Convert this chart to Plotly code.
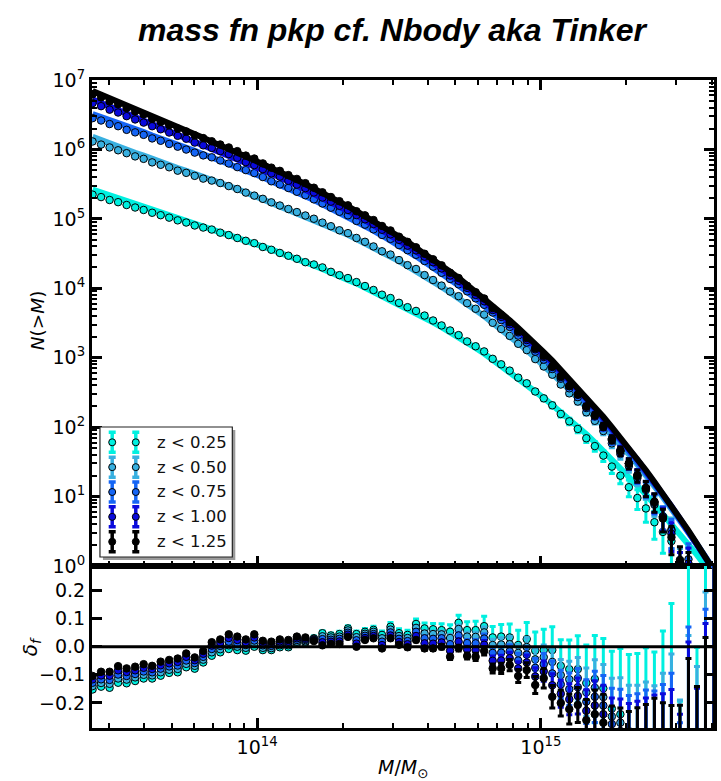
import numpy as np
import plotly.graph_objects as go

# ------------------------------------------------------------------ data
# mass bins, log10(M / M_sun)
LOG_M = [13.42,13.45,13.48,13.51,13.54,13.57,13.60,13.63,13.66,13.69,
         13.72,13.75,13.78,13.81,13.84,13.87,13.90,13.93,13.96,13.99,
         14.02,14.05,14.08,14.11,14.14,14.17,14.20,14.23,14.26,14.29,
         14.32,14.35,14.38,14.41,14.44,14.47,14.50,14.53,14.56,14.59,
         14.62,14.65,14.68,14.71,14.74,14.77,14.80,14.83,14.86,14.89,
         14.92,14.95,14.98,15.01,15.04,15.07,15.10,15.13,15.16,15.19,
         15.22,15.25,15.28,15.31,15.34,15.37,15.40,15.43,15.46,15.49,
         15.52,15.55,15.58,15.61]

LABELS = ["z < 0.25", "z < 0.50", "z < 0.75", "z < 1.00", "z < 1.25"]

# theory (Tinker) curves, log10 N(>M)
T_Z025 = [5.42,5.38,5.34,5.30,5.26,5.22,5.18,5.14,5.10,5.06,
          5.02,4.98,4.94,4.90,4.86,4.81,4.77,4.73,4.69,4.65,
          4.60,4.56,4.51,4.47,4.42,4.37,4.33,4.28,4.22,4.17,
          4.12,4.07,4.01,3.95,3.89,3.83,3.77,3.71,3.64,3.58,
          3.51,3.44,3.37,3.29,3.21,3.14,3.06,2.97,2.89,2.80,
          2.71,2.62,2.52,2.42,2.32,2.22,2.12,2.01,1.90,1.78,
          1.66,1.54,1.42,1.29,1.16,1.03,0.89,0.75,0.61,0.46,
          0.31,0.16,0.00,-0.16]
T_Z050 = [6.18,6.13,6.09,6.04,6.00,5.95,5.91,5.86,5.82,5.78,
          5.73,5.69,5.65,5.60,5.56,5.52,5.47,5.43,5.38,5.33,
          5.29,5.24,5.19,5.14,5.09,5.04,4.99,4.93,4.88,4.82,
          4.77,4.71,4.65,4.58,4.52,4.46,4.39,4.32,4.25,4.17,
          4.10,4.02,3.94,3.86,3.77,3.69,3.60,3.50,3.41,3.31,
          3.21,3.11,3.00,2.89,2.78,2.66,2.54,2.42,2.29,2.16,
          2.03,1.89,1.75,1.61,1.46,1.31,1.15,0.99,0.82,0.66,
          0.48,0.31,0.12,-0.06]
T_Z075 = [6.51,6.47,6.42,6.38,6.33,6.29,6.25,6.20,6.16,6.11,
          6.07,6.02,5.98,5.93,5.89,5.84,5.79,5.74,5.70,5.65,
          5.60,5.54,5.49,5.44,5.38,5.33,5.27,5.21,5.15,5.09,
          5.03,4.96,4.90,4.83,4.76,4.69,4.61,4.54,4.46,4.38,
          4.30,4.21,4.13,4.04,3.95,3.85,3.75,3.66,3.55,3.45,
          3.34,3.23,3.12,3.00,2.88,2.76,2.63,2.50,2.37,2.24,
          2.10,1.95,1.81,1.66,1.50,1.34,1.18,1.02,0.85,0.67,
          0.50,0.31,0.13,-0.06]
T_Z100 = [6.72,6.67,6.62,6.57,6.52,6.47,6.42,6.37,6.32,6.27,
          6.22,6.17,6.12,6.07,6.02,5.97,5.92,5.87,5.81,5.76,
          5.71,5.65,5.60,5.54,5.48,5.43,5.37,5.30,5.24,5.18,
          5.11,5.05,4.98,4.91,4.84,4.76,4.69,4.61,4.53,4.45,
          4.37,4.28,4.19,4.10,4.01,3.91,3.81,3.71,3.61,3.50,
          3.40,3.28,3.17,3.05,2.93,2.80,2.68,2.55,2.41,2.27,
          2.13,1.99,1.84,1.68,1.53,1.37,1.20,1.03,0.86,0.68,
          0.50,0.32,0.13,-0.07]
T_Z125 = [6.84,6.79,6.73,6.68,6.63,6.58,6.53,6.47,6.42,6.37,
          6.32,6.27,6.22,6.17,6.11,6.06,6.01,5.96,5.90,5.85,
          5.79,5.73,5.68,5.62,5.56,5.50,5.44,5.38,5.31,5.25,
          5.18,5.11,5.04,4.97,4.90,4.82,4.74,4.67,4.58,4.50,
          4.42,4.33,4.24,4.15,4.05,3.96,3.86,3.75,3.65,3.54,
          3.43,3.32,3.20,3.08,2.96,2.83,2.70,2.57,2.43,2.29,
          2.15,2.00,1.85,1.70,1.54,1.38,1.21,1.04,0.87,0.69,
          0.51,0.32,0.13,-0.07]

# fractional residual of the N-body counts, delta_f = N_nbody / N_theory - 1
D_Z025 = [-0.152,-0.142,-0.146,-0.128,-0.130,-0.122,-0.113,-0.113,-0.103,-0.093,
          -0.091,-0.073,-0.078,-0.056,-0.032,-0.020,-0.008,-0.012,-0.014,0.000,
          -0.012,-0.012,-0.002,-0.002,0.012,0.014,0.030,0.048,0.040,0.045,
          0.065,0.045,0.053,0.060,0.042,0.071,0.048,0.042,0.081,0.065,
          0.062,0.059,0.053,0.085,0.059,0.059,0.073,0.033,0.036,0.033,
          0.006,0.027,-0.014,-0.012,-0.012,-0.068,-0.080,-0.080,-0.129,-0.115,
          -0.148,-0.220,-0.240,-0.300,-0.340,-0.370,-0.450,-0.450,-0.440,-0.900,
          -0.500,-1.000,-0.800,-1.000]
D_Z050 = [-0.140,-0.129,-0.132,-0.113,-0.117,-0.109,-0.100,-0.102,-0.091,-0.082,
          -0.079,-0.061,-0.068,-0.046,-0.020,-0.009,0.005,0.000,-0.004,0.011,
          -0.004,-0.005,0.005,0.005,0.018,0.019,0.028,0.037,0.033,0.036,
          0.058,0.034,0.046,0.053,0.030,0.061,0.038,0.031,0.067,0.047,
          0.045,0.044,0.031,0.063,0.036,0.035,0.051,0.006,0.008,0.009,
          -0.022,-0.001,-0.045,-0.037,-0.054,-0.101,-0.116,-0.112,-0.162,-0.146,
          -0.179,-0.248,-0.270,-0.325,-0.360,-0.390,-0.458,-0.478,-0.493,-0.750,
          -0.650,-0.910,-0.850,-1.000]
D_Z075 = [-0.128,-0.116,-0.118,-0.099,-0.104,-0.097,-0.088,-0.091,-0.078,-0.070,
          -0.067,-0.049,-0.058,-0.036,-0.008,0.003,0.018,0.012,0.006,0.022,
          0.005,0.003,0.012,0.011,0.024,0.024,0.025,0.027,0.025,0.028,
          0.050,0.023,0.039,0.045,0.018,0.051,0.028,0.020,0.053,0.030,
          0.028,0.030,0.009,0.040,0.013,0.012,0.029,-0.022,-0.021,-0.016,
          -0.049,-0.028,-0.075,-0.062,-0.095,-0.134,-0.151,-0.144,-0.195,-0.178,
          -0.209,-0.275,-0.300,-0.350,-0.380,-0.410,-0.465,-0.505,-0.545,-0.825,
          -0.605,-0.985,-0.900,-1.000]
D_Z100 = [-0.116,-0.102,-0.103,-0.084,-0.090,-0.084,-0.075,-0.079,-0.066,-0.059,
          -0.054,-0.036,-0.048,-0.025,0.004,0.015,0.031,0.024,0.016,0.033,
          0.013,0.011,0.019,0.018,0.030,0.028,0.023,0.016,0.018,0.019,
          0.043,0.011,0.031,0.038,0.006,0.040,0.017,0.009,0.038,0.012,
          0.011,0.015,-0.014,0.018,-0.010,-0.012,0.007,-0.050,-0.049,-0.041,
          -0.077,-0.056,-0.106,-0.087,-0.137,-0.167,-0.187,-0.175,-0.228,-0.209,
          -0.240,-0.303,-0.330,-0.375,-0.400,-0.430,-0.473,-0.533,-0.598,-0.788,
          -0.658,-0.978,-0.950,-1.000]
D_Z125 = [-0.104,-0.089,-0.089,-0.069,-0.077,-0.071,-0.062,-0.068,-0.053,-0.047,
          -0.042,-0.024,-0.038,-0.015,0.016,0.026,0.044,0.036,0.026,0.044,
          0.021,0.018,0.026,0.024,0.036,0.033,0.020,0.005,0.010,0.010,
          0.035,0.000,0.024,0.030,-0.006,0.030,0.007,-0.002,0.024,-0.006,
          -0.006,0.000,-0.036,-0.005,-0.033,-0.036,-0.015,-0.077,-0.077,-0.065,
          -0.104,-0.083,-0.136,-0.112,-0.178,-0.200,-0.222,-0.207,-0.261,-0.240,
          -0.270,-0.330,-0.360,-0.400,-0.420,-0.450,-0.480,-0.560,-0.650,-0.750,
          -0.710,-0.970,-1.000,-1.000]

# 1-sigma errors on delta_f
E_Z025 = [0.002,0.002,0.003,0.003,0.003,0.003,0.003,0.003,0.003,0.004,
          0.004,0.004,0.004,0.004,0.004,0.005,0.005,0.005,0.005,0.006,
          0.006,0.006,0.007,0.007,0.007,0.008,0.008,0.009,0.009,0.010,
          0.010,0.011,0.012,0.013,0.014,0.015,0.016,0.017,0.018,0.019,
          0.021,0.023,0.025,0.027,0.030,0.032,0.035,0.039,0.043,0.048,
          0.053,0.059,0.066,0.074,0.083,0.093,0.104,0.119,0.135,0.155,
          0.177,0.204,0.234,0.272,0.316,0.366,0.431,0.506,0.594,0.706,
          0.840,0.998,1.200,1.443]
E_Z050 = [0.001,0.001,0.001,0.001,0.001,0.001,0.001,0.001,0.001,0.002,
          0.002,0.002,0.002,0.002,0.002,0.002,0.002,0.002,0.002,0.003,
          0.003,0.003,0.003,0.003,0.003,0.004,0.004,0.004,0.004,0.005,
          0.005,0.005,0.006,0.006,0.007,0.007,0.008,0.008,0.009,0.010,
          0.011,0.012,0.013,0.014,0.016,0.017,0.019,0.021,0.024,0.027,
          0.030,0.033,0.038,0.043,0.049,0.056,0.064,0.074,0.086,0.100,
          0.116,0.136,0.160,0.188,0.223,0.265,0.319,0.384,0.467,0.561,
          0.690,0.840,1.045,1.286]
E_Z075 = [0.001,0.001,0.001,0.001,0.001,0.001,0.001,0.001,0.001,0.001,
          0.001,0.001,0.001,0.001,0.001,0.001,0.002,0.002,0.002,0.002,
          0.002,0.002,0.002,0.002,0.002,0.003,0.003,0.003,0.003,0.003,
          0.004,0.004,0.004,0.005,0.005,0.005,0.006,0.006,0.007,0.008,
          0.008,0.009,0.010,0.011,0.013,0.014,0.016,0.018,0.020,0.023,
          0.026,0.029,0.033,0.038,0.044,0.050,0.058,0.067,0.078,0.091,
          0.107,0.127,0.149,0.177,0.213,0.256,0.308,0.371,0.451,0.555,
          0.675,0.840,1.033,1.286]
E_Z100 = [0.001,0.001,0.001,0.001,0.001,0.001,0.001,0.001,0.001,0.001,
          0.001,0.001,0.001,0.001,0.001,0.001,0.001,0.001,0.001,0.002,
          0.002,0.002,0.002,0.002,0.002,0.002,0.002,0.003,0.003,0.003,
          0.003,0.004,0.004,0.004,0.005,0.005,0.005,0.006,0.007,0.007,
          0.008,0.009,0.010,0.011,0.012,0.013,0.015,0.017,0.019,0.021,
          0.024,0.027,0.031,0.036,0.041,0.048,0.055,0.064,0.075,0.088,
          0.103,0.121,0.144,0.173,0.206,0.248,0.301,0.366,0.446,0.548,
          0.675,0.830,1.033,1.301]
E_Z125 = [0.000,0.000,0.001,0.001,0.001,0.001,0.001,0.001,0.001,0.001,
          0.001,0.001,0.001,0.001,0.001,0.001,0.001,0.001,0.001,0.001,
          0.002,0.002,0.002,0.002,0.002,0.002,0.002,0.002,0.003,0.003,
          0.003,0.003,0.004,0.004,0.004,0.005,0.005,0.006,0.006,0.007,
          0.007,0.008,0.009,0.010,0.011,0.013,0.014,0.016,0.018,0.020,
          0.023,0.026,0.030,0.035,0.040,0.046,0.053,0.062,0.073,0.086,
          0.101,0.119,0.142,0.170,0.203,0.245,0.297,0.361,0.441,0.542,
          0.668,0.829,1.033,1.294]

THEORY = [T_Z025, T_Z050, T_Z075, T_Z100, T_Z125]
DELTA = [D_Z025, D_Z050, D_Z075, D_Z100, D_Z125]
ERR = [E_Z025, E_Z050, E_Z075, E_Z100, E_Z125]

# ------------------------------------------------------------------ style
COLORS = ["#00f0e0", "#38b0e0", "#1565f5", "#0a0adc", "#000000"]
W, H = 721, 781
PL, PR, PT, PB = 92, 717, 80, 728   # plot-area edges in pixels

M = 10 ** np.array(LOG_M)
fig = go.Figure()
for i in range(5):
    T = np.array(THEORY[i]); d = np.array(DELTA[i]); e = np.array(ERR[i])
    nth = 10 ** T
    nd = nth * (1 + d)
    ok = nd > 0
    y_top = np.where(ok, nd, np.nan)
    up = np.where(ok, nd * e, 0)
    dn = np.where(ok, np.minimum(nd * e, nd * 0.9999), 0)
    c = COLORS[i]
    fig.add_trace(go.Scatter(x=M, y=nth, mode="lines", line=dict(color=c, width=6),
                             xaxis="x", yaxis="y", showlegend=False, hoverinfo="skip"))
    fig.add_trace(go.Scatter(x=M, y=y_top, mode="markers", name=LABELS[i],
                             marker=dict(size=7.5, color=c, line=dict(color="black", width=1)),
                             error_y=dict(type="data", symmetric=False, array=up, arrayminus=dn,
                                          color=c, thickness=3, width=3),
                             xaxis="x", yaxis="y", showlegend=False))
for i in range(5):
    c = COLORS[i]
    fig.add_trace(go.Scatter(x=M, y=DELTA[i], mode="markers", name=LABELS[i],
                             marker=dict(size=7.5, color=c, line=dict(color="black", width=1)),
                             error_y=dict(type="data", array=ERR[i], color=c, thickness=3, width=3),
                             xaxis="x2", yaxis="y2", showlegend=False))

# legend, drawn in an invisible pixel-coordinate overlay
bx0, bx1, by0, by1 = 100, 233, 427, 557
fig.add_trace(go.Scatter(x=[bx0 + 3, bx1 + 3, bx1 + 3, bx0 + 3, bx0 + 3],
                         y=[by0 + 3, by0 + 3, by1 + 3, by1 + 3, by0 + 3],
                         fill="toself", fillcolor="#9a9a9a", line=dict(width=0), mode="lines",
                         xaxis="x3", yaxis="y3", showlegend=False, hoverinfo="skip"))
fig.add_trace(go.Scatter(x=[bx0, bx1, bx1, bx0, bx0], y=[by0, by0, by1, by1, by0],
                         fill="toself", fillcolor="white", line=dict(width=1.2, color="#222"),
                         mode="lines", xaxis="x3", yaxis="y3", showlegend=False, hoverinfo="skip"))
rows = [442.3 + 24.85 * r for r in range(5)]
for i in range(5):
    fig.add_trace(go.Scatter(x=[112.3, 136.0], y=[rows[i]] * 2, mode="markers",
                             marker=dict(size=7, color=COLORS[i], line=dict(color="black", width=1)),
                             error_y=dict(type="constant", value=10, color=COLORS[i],
                                          thickness=3.5, width=3.5),
                             xaxis="x3", yaxis="y3", showlegend=False, hoverinfo="skip"))


def px(xp):
    return (xp - PL) / (PR - PL)


def py(yp):
    return (PB - yp) / (PB - PT)


ann = []
for i in range(5):
    ann.append(dict(x=px(155), y=py(rows[i]), xref="paper", yref="paper", text=LABELS[i],
                    showarrow=False, xanchor="left", yanchor="middle",
                    font=dict(family="DejaVu Sans", size=16.5, color="#111")))
ann.append(dict(x=px(37), y=py(320), xref="paper", yref="paper", text="<i>N</i>(&gt;<i>M</i>)",
                showarrow=False, textangle=-90, xanchor="center", yanchor="middle",
                font=dict(family="DejaVu Sans", size=18.5, color="black")))
ann.append(dict(x=px(31), y=py(647), xref="paper", yref="paper",
                text="<i>δ</i><sub><i>f</i></sub>", showarrow=False, textangle=-90,
                xanchor="center", yanchor="middle",
                font=dict(family="DejaVu Sans", size=20, color="black")))
ann.append(dict(x=px(405), y=py(768), xref="paper", yref="paper",
                text="<i>M</i>/<i>M</i><sub>⊙</sub>", showarrow=False,
                xanchor="center", yanchor="middle",
                font=dict(family="DejaVu Sans", size=19, color="black")))

decades = list(range(0, 8))
minor_y = [k * 10 ** d for d in range(0, 7) for k in range(2, 10)]
minor_x = [k * 10 ** d for d in (13, 14, 15) for k in range(2, 10)]
axcommon = dict(showline=True, linewidth=3, linecolor="black", ticks="inside", ticklen=10,
                tickwidth=2.5, tickcolor="black", showgrid=False, zeroline=False,
                tickfont=dict(family="DejaVu Sans", size=19, color="black"))
minor_d = dict(ticks="inside", ticklen=5, tickwidth=1.5, tickcolor="black", showgrid=False)

fig.update_layout(
    width=W, height=H, margin=dict(l=PL, r=W - PR, t=PT, b=H - PB),
    paper_bgcolor="white", plot_bgcolor="rgba(0,0,0,0)", showlegend=False,
    title=dict(text="mass fn pkp cf. Nbody aka Tinker", x=392 / W, xanchor="center",
               y=1 - 30 / H, yanchor="middle", xref="container", yref="container",
               font=dict(family="Liberation Sans", size=32, color="black",
                         weight="bold", style="italic")),
    xaxis=dict(axcommon, type="log", range=[13.418, 15.610], domain=[0, 1], anchor="y",
               tickmode="array", tickvals=[1e14, 1e15], showticklabels=False,
               mirror="allticks", minor=dict(minor_d, tickmode="array", tickvals=minor_x)),
    yaxis=dict(axcommon, type="log", range=[0, 7], domain=[0.25, 1], anchor="x",
               mirror="allticks", tickmode="array", tickvals=[10 ** d for d in decades],
               ticktext=[f"10<sup>{d}</sup>" for d in decades],
               minor=dict(minor_d, tickmode="array", tickvals=minor_y)),
    xaxis2=dict(axcommon, type="log", range=[13.418, 15.610], domain=[0, 1], anchor="y2",
                mirror=True, tickmode="array", tickvals=[1e14, 1e15],
                ticktext=["10<sup>14</sup>", "10<sup>15</sup>"],
                minor=dict(minor_d, tickmode="array", tickvals=minor_x)),
    yaxis2=dict(axcommon, range=[-0.289, 0.287], domain=[0, 0.25], anchor="x2",
                mirror="allticks", tickmode="array", tickvals=[-0.2, -0.1, 0, 0.1, 0.2],
                ticktext=["−0.2", "−0.1", "0.0", "0.1", "0.2"]),
    xaxis3=dict(domain=[0, 1], range=[PL, PR], visible=False, anchor="y3", fixedrange=True),
    yaxis3=dict(domain=[0, 1], range=[PB, PT], visible=False, anchor="x3", fixedrange=True),
    annotations=ann,
    shapes=[dict(type="line", xref="x2 domain", x0=0, x1=1, yref="y2", y0=0, y1=0,
                 line=dict(color="black", width=3), layer="above")],
)
fig.write_html("out.html")
